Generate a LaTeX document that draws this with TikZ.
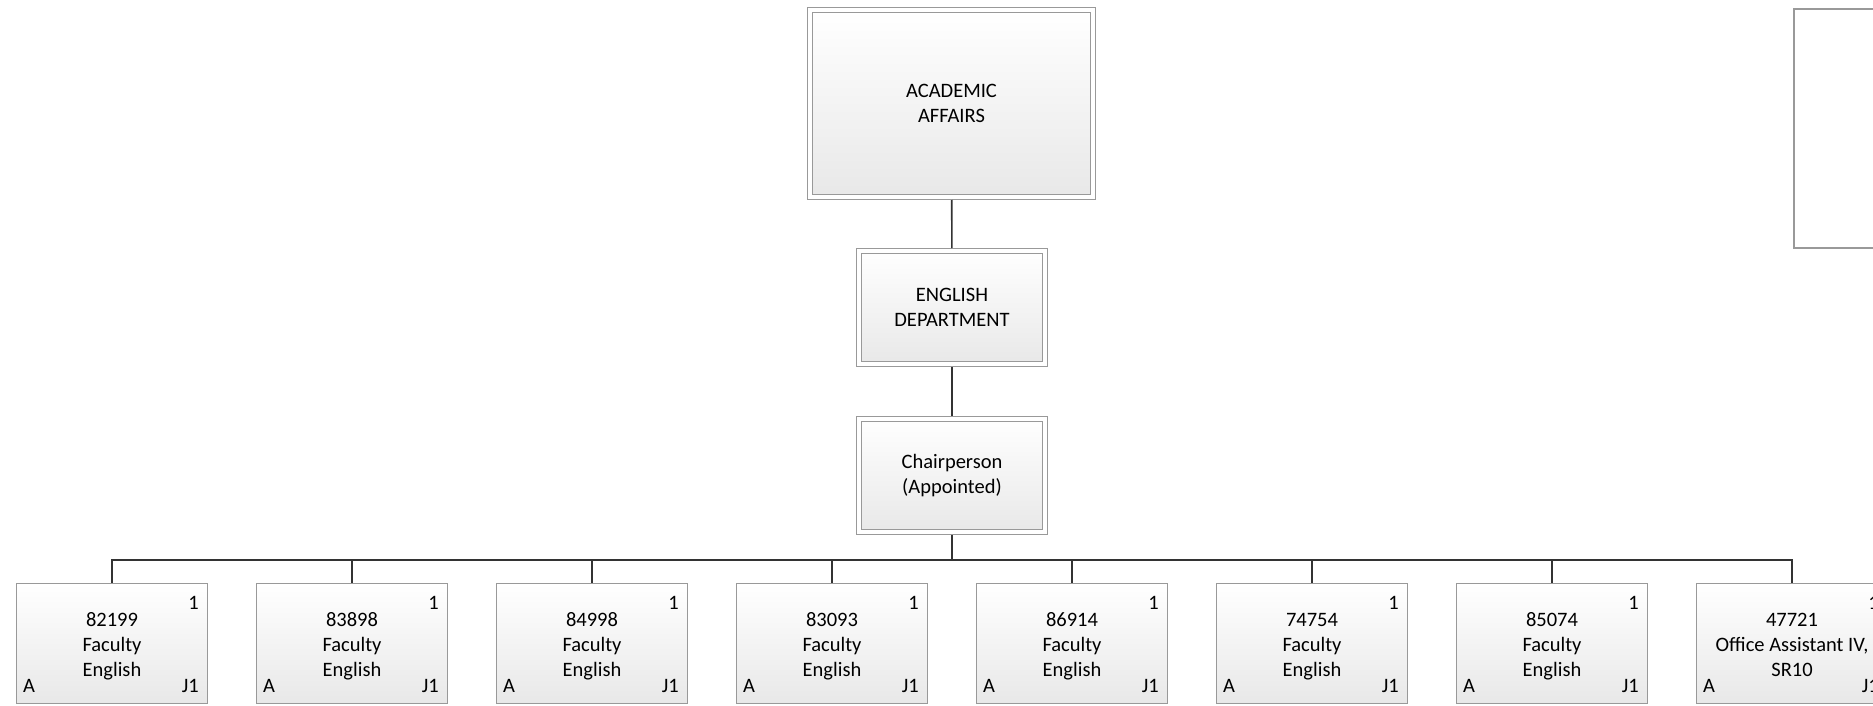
\documentclass[tikz,border=0pt]{standalone}
\usepackage{fontspec}
\setmainfont{Carlito}
\tikzset{
  orgbox/.style={draw=black!40,line width=1.3pt,top color=white,bottom color=black!9,
    inner sep=0pt,align=center,font=\fontsize{20.5}{25}\selectfont},
  headbox/.style={orgbox,double=white,double distance=4pt,line width=1.2pt,outer sep=3.2pt},
  posbox/.style={orgbox,minimum width=190.7pt,minimum height=119.7pt},
  corner/.style={inner sep=0pt,font=\fontsize{20.5}{25}\selectfont},
  link/.style={draw=black!80,line width=1.6pt}
}
\begin{document}
\begin{tikzpicture}[x=1pt,y=-1pt]
\useasboundingbox (0,0) rectangle (1873,706);
\clip (0,0) rectangle (1873,706);
\node[headbox,minimum width=282.6pt,minimum height=186.6pt] (affairs) at (951.5,103.5) {ACADEMIC\\AFFAIRS};
\node[headbox,minimum width=185.6pt,minimum height=112.6pt] (english) at (952,307.5) {ENGLISH\\DEPARTMENT};
\node[headbox,minimum width=185.6pt,minimum height=112.6pt] (chair) at (952,475.5) {Chairperson\\(Appointed)};
\node[draw=black!40,line width=2pt,fill=white,anchor=north west,minimum width=192pt,minimum height=239pt] (legend) at (1793,8) {};
\coordinate (bus) at (952,560);
\draw[link] (affairs) -- (english);
\draw[link] (english) -- (chair);
\draw[link] (chair) -- (bus);
\foreach \num/\title/\dept [count=\i from 0] in {82199/Faculty/English,83898/Faculty/English,
  84998/Faculty/English,83093/Faculty/English,86914/Faculty/English,74754/Faculty/English,
  85074/Faculty/English,47721/{Office Assistant IV,}/SR10}{
  \node[posbox] (pos\i) at (112+240*\i,643.5) {\rule{0pt}{20pt}\num\\\title\\\rule[-5pt]{0pt}{5pt}\dept};
  \draw[link] (bus) -| (pos\i.north);
  \node[corner,anchor=base west] (a\i) at ([xshift=7pt,yshift=12pt]pos\i.south west) {A};
  \node[corner,anchor=base east] (n\i) at ([xshift=-9pt,yshift=-26pt]pos\i.north east) {1};
  \node[corner,anchor=base east] (j\i) at ([xshift=-9pt,yshift=12pt]pos\i.south east) {J1};
}
\end{tikzpicture}
\end{document}
